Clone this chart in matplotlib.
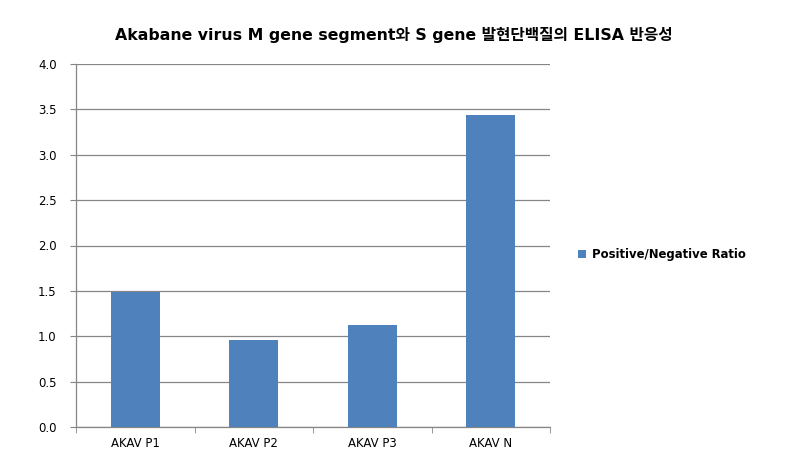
import matplotlib
matplotlib.use('Agg')
import matplotlib.pyplot as plt
import numpy as np

plt.rcParams['font.family'] = ['DejaVu Sans', 'Noto Sans CJK KR']

categories = ['AKAV P1', 'AKAV P2', 'AKAV P3', 'AKAV N']
ratio = [1.49, 0.96, 1.12, 3.44]
series_name = 'Positive/Negative Ratio'
title = 'Akabane virus M gene segment와 S gene 발현단백질의 ELISA 반응성'
yticks = [0.0, 0.5, 1.0, 1.5, 2.0, 2.5, 3.0, 3.5, 4.0]

fig = plt.figure(figsize=(7.94, 4.58), dpi=100)
ax = fig.add_axes([76 / 794, 31 / 458, 474 / 794, 363 / 458])

x = np.arange(len(categories))
ax.bar(x, ratio, width=0.41, color='#4F81BD', label=series_name, zorder=3)

ax.set_xlim(-0.5, len(categories) - 0.5)
ax.set_ylim(0, 4.0)
ax.set_yticks(yticks)
ax.set_yticklabels([f'{v:.1f}' for v in yticks], fontsize=8.5)
ax.set_xticks(x)
ax.set_xticklabels(categories, fontsize=8.5)
ax.set_xticks(np.arange(-0.5, len(categories)), minor=True)
ax.tick_params(axis='x', which='major', length=0, pad=7)
ax.tick_params(axis='x', which='minor', length=4, color='#868686', direction='out')
ax.tick_params(axis='y', length=4, color='#868686', direction='out', pad=10)

ax.grid(axis='y', color='#868686', linewidth=0.9, zorder=0)
for s in ['top', 'right']:
    ax.spines[s].set_visible(False)
for s in ['left', 'bottom']:
    ax.spines[s].set_color('#868686')
    ax.spines[s].set_linewidth(0.9)

fig.text(0.496, 0.924, title, ha='center', va='center', fontsize=11.3, fontweight='bold')

fig.legend(loc='center left', bbox_to_anchor=(0.715, 0.445), frameon=False,
           handlelength=0.7, handleheight=0.7, handletextpad=0.5,
           prop={'weight': 'bold', 'size': 8.4})

fig.savefig('out.png', dpi=100)
